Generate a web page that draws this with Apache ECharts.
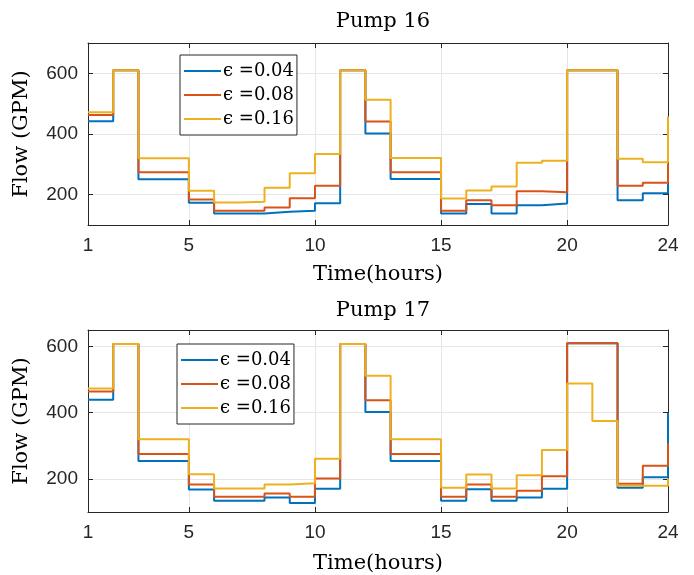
<!DOCTYPE html>
<html><head><meta charset="utf-8">
<script src="https://cdn.jsdelivr.net/npm/echarts@6/dist/echarts.min.js"></script>
<style>html,body{margin:0;padding:0;background:#fff}#c{width:694px;height:575px}</style>
</head><body><div id="c"></div>
<script>
const hours = [1,2,3,4,5,6,7,8,9,10,11,12,13,14,15,16,17,18,19,20,21,22,23,24];
const seriesNames = ['\u03f5 =0.04', '\u03f5 =0.08', '\u03f5 =0.16'];
const xTicks = [1,5,10,15,20,24];
const yTicks = [200,400,600];
// Pump 16
const p16_e004 = [442,610,251,251,173,138,138,144,147,172,610,402,252,252,138,169,138,165,171,610,610,182,205,236];
const p16_e008 = [463,610,274,274,184,147,147,158,188,229,610,441,274,274,147,182,165,211,208,610,610,229,239,303];
const p16_e016 = [472,610,320,320,213,174,177,223,271,334,610,513,321,321,187,214,227,305,312,610,610,318,307,458];
// Pump 17
const p17_e004 = [439,608,254,254,168,134,134,144,127,170,608,402,254,254,134,169,134,144,170,610,610,173,205,400];
const p17_e008 = [464,608,275,275,183,146,146,156,146,201,608,438,275,275,146,183,146,164,208,610,610,185,240,308];
const p17_e016 = [473,608,320,320,214,171,171,183,187,261,608,512,320,320,173,213,171,211,287,488,375,179,179,201];

const colors = ['#0072BD','#D95319','#EDB120'];
const axisColor = '#262626';
const sans = 'Liberation Sans, Arial, Helvetica, sans-serif';
const serif = 'DejaVu Serif, serif';

function pairs(vals){ return hours.map((h,i)=>[h, vals[i]]); }

const grids = [
  {left:88, top:43, width:580, height:182},
  {left:88, top:330, width:580, height:183}
];
const yRanges = [[100,700],[100,650]];
const xNameGaps = [39, 41];

const xAxis = [], yAxis = [];
[0,1].forEach(g=>{
  xAxis.push({
    type:'value', gridIndex:g, position:'bottom', min:1, max:24,
    name:'Time(hours)', nameLocation:'middle', nameGap:xNameGaps[g],
    nameTextStyle:{fontFamily:serif, fontSize:21, color:'#000'},
    axisLine:{show:true, lineStyle:{color:axisColor, width:1}},
    axisTick:{show:true, inside:true, length:5, customValues:xTicks, lineStyle:{color:axisColor}},
    axisLabel:{show:true, customValues:xTicks, margin:11, fontFamily:sans, fontSize:19, color:axisColor},
    splitLine:{show:true, lineStyle:{color:'#e6e6e6', width:1}}
  });
  xAxis.push({
    type:'value', gridIndex:g, position:'top', min:1, max:24,
    axisLine:{show:true, onZero:false, lineStyle:{color:axisColor, width:1}},
    axisTick:{show:true, inside:true, length:5, customValues:xTicks, lineStyle:{color:axisColor}},
    axisLabel:{show:false}, splitLine:{show:false}
  });
  yAxis.push({
    type:'value', gridIndex:g, position:'left', min:yRanges[g][0], max:yRanges[g][1],
    name:'Flow (GPM)', nameLocation:'middle', nameGap:56,
    nameTextStyle:{fontFamily:serif, fontSize:21, color:'#000'},
    axisLine:{show:true, onZero:false, lineStyle:{color:axisColor, width:1}},
    axisTick:{show:true, inside:true, length:5, customValues:yTicks, lineStyle:{color:axisColor}},
    axisLabel:{show:true, customValues:yTicks, margin:10, fontFamily:sans, fontSize:19, color:axisColor},
    splitLine:{show:true, lineStyle:{color:'#e6e6e6', width:1}}
  });
  yAxis.push({
    type:'value', gridIndex:g, position:'right', min:yRanges[g][0], max:yRanges[g][1],
    axisLine:{show:true, onZero:false, lineStyle:{color:axisColor, width:1}},
    axisTick:{show:true, inside:true, length:5, customValues:yTicks, lineStyle:{color:axisColor}},
    axisLabel:{show:false}, splitLine:{show:false}
  });
});

const data = [[p16_e004,p16_e008,p16_e016],[p17_e004,p17_e008,p17_e016]];
const series = [];
[0,1].forEach(g=>{
  data[g].forEach((vals,k)=>{
    series.push({
      type:'line', name:seriesNames[k], step:'end',
      xAxisIndex:g*2, yAxisIndex:g*2,
      data:pairs(vals), symbol:'none', showSymbol:false,
      lineStyle:{color:colors[k], width:2}, itemStyle:{color:colors[k]},
      z:3, animation:false
    });
  });
});

function legendAt(left, top){
  return {
    left:left, top:top, orient:'vertical', data:seriesNames,
    icon:'rect', itemWidth:37, itemHeight:2, itemGap:4,
    padding:[6,3,6,4], borderColor:axisColor, borderWidth:1, backgroundColor:'#fff',
    textStyle:{fontFamily:serif, fontSize:18, color:'#000', lineHeight:20, padding:[0,0,0,-3]},
    selectedMode:false
  };
}

const chart = echarts.init(document.getElementById('c'), null, {renderer:'canvas'});
chart.setOption({
  animation:false,
  backgroundColor:'#fff',
  title:[
    {text:'Pump 16', left:378, top:6, textAlign:'center', textStyle:{fontFamily:serif, fontSize:21, fontWeight:'normal', color:'#000'}},
    {text:'Pump 17', left:378, top:295, textAlign:'center', textStyle:{fontFamily:serif, fontSize:21, fontWeight:'normal', color:'#000'}}
  ],
  grid:grids,
  xAxis:xAxis, yAxis:yAxis,
  legend:[legendAt(180,55), legendAt(177,344)],
  series:series
});
</script></body></html>
